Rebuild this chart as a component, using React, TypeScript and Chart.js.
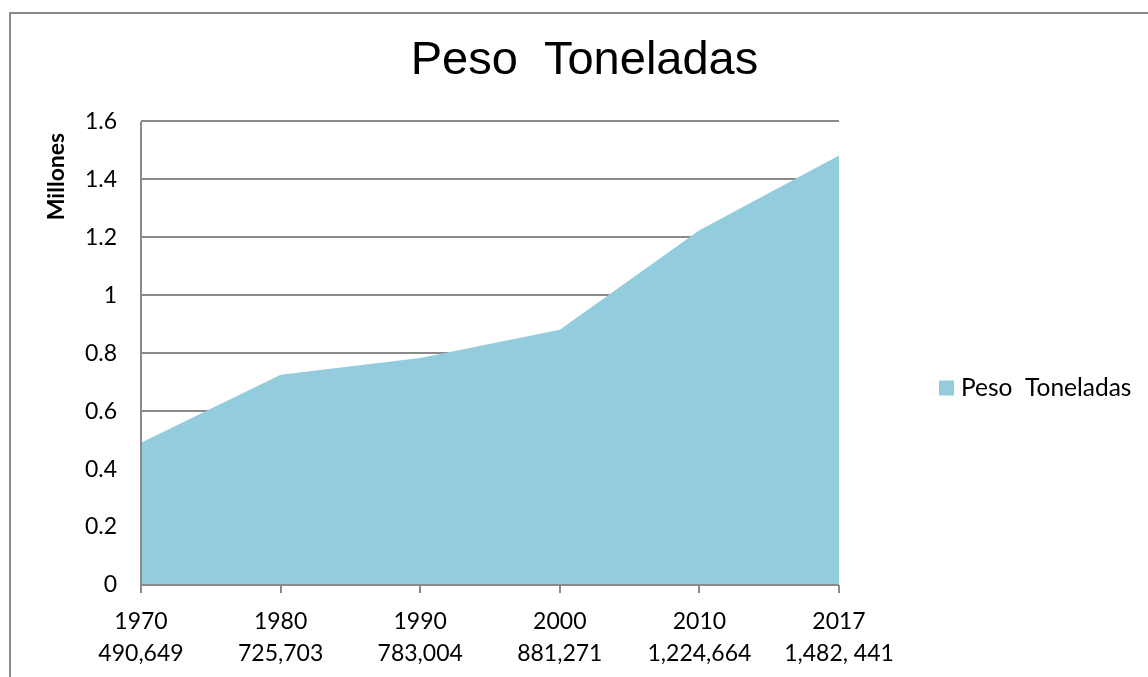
import React, { useEffect, useRef } from 'react';
import { Chart, registerables } from 'chart.js';

Chart.register(...registerables);

// Series: tonnage per census year
const years = ['1970', '1980', '1990', '2000', '2010', '2017'];
const tonnageLabels = ['490,649', '725,703', '783,004', '881,271', '1,224,664', '1,482, 441'];
const tonnes = [490649, 725703, 783004, 881271, 1224664, 1482441];

// Value axis, in millions of tonnes
const yTickValues = [0, 0.2, 0.4, 0.6, 0.8, 1, 1.2, 1.4, 1.6];

const chartTitle = 'Peso  Toneladas';
const seriesName = 'Peso  Toneladas';
const yAxisTitle = 'Millones';

const FILL = '#93cddd';
const GRID = '#8a8a8a';
const LABEL_FAMILY = 'Lato, "Noto Sans", sans-serif';
const LABEL_SIZE = 23;
const LEGEND_SIZE = 24.5;

// Axis lines on top of the area, plus the side legend and the rotated unit title.
const overlayPlugin = {
  id: 'overlay',
  afterDatasetsDraw(chart: any) {
    const { ctx, chartArea: a } = chart;
    ctx.save();
    ctx.strokeStyle = GRID;
    ctx.lineWidth = 2;
    ctx.beginPath();
    ctx.moveTo(a.left, a.top);
    ctx.lineTo(a.left, a.bottom);
    ctx.lineTo(a.right, a.bottom);
    ctx.stroke();
    ctx.restore();
  },
  afterDraw(chart: any) {
    const { ctx } = chart;
    const ds = chart.data.datasets[0];
    ctx.save();

    // unit title, rotated
    ctx.translate(56.5, 176.5);
    ctx.rotate(-Math.PI / 2);
    ctx.font = `bold ${LABEL_SIZE}px ${LABEL_FAMILY}`;
    ctx.fillStyle = '#000';
    ctx.textAlign = 'center';
    ctx.textBaseline = 'middle';
    ctx.fillText(yAxisTitle, 0, 0);
    ctx.setTransform(1, 0, 0, 1, 0, 0);

    // legend
    const lx = 939;
    const ly = 388;
    ctx.fillStyle = ds.backgroundColor;
    ctx.fillRect(lx, ly - 7.5, 15, 15);
    ctx.fillStyle = '#000';
    ctx.font = `${LEGEND_SIZE}px ${LABEL_FAMILY}`;
    ctx.textAlign = 'left';
    ctx.textBaseline = 'middle';
    ctx.fillText(ds.label, lx + 22, ly);
    ctx.restore();
  },
};

export default function App() {
  const canvasRef = useRef<HTMLCanvasElement>(null);

  useEffect(() => {
    const labelFont = { family: LABEL_FAMILY, size: LABEL_SIZE, lineHeight: 1.39 };
    const chart = new Chart(canvasRef.current as HTMLCanvasElement, {
      type: 'line',
      data: {
        labels: years.map((y, i) => [y, tonnageLabels[i]]),
        datasets: [
          {
            label: seriesName,
            data: tonnes.map((t) => t / 1e6),
            fill: 'origin',
            backgroundColor: FILL,
            borderColor: 'transparent',
            borderWidth: 0,
            pointRadius: 0,
            pointHoverRadius: 0,
            tension: 0,
            xAxisID: 'x',
            yAxisID: 'y',
          },
        ],
      },
      options: {
        animation: false,
        responsive: false,
        events: [],
        layout: { padding: { left: 21, right: 0, top: 0, bottom: 0 } },
        plugins: {
          legend: { display: false },
          tooltip: { enabled: false },
          title: {
            display: true,
            text: chartTitle,
            color: '#000',
            font: { family: '"Liberation Sans", Arial, sans-serif', size: 47, weight: 'normal', lineHeight: 1.2 },
            padding: { top: 33, bottom: 32 },
          },
        },
        scales: {
          x: {
            type: 'category',
            offset: false,
            grid: {
              display: true,
              drawOnChartArea: false,
              drawTicks: true,
              tickLength: 8,
              color: GRID,
              lineWidth: 2,
            },
            border: { display: false },
            ticks: {
              color: '#000',
              font: labelFont,
              padding: 13,
              maxRotation: 0,
              autoSkip: false,
            },
            afterFit: (s: any) => {
              s.height = 92;
            },
          },
          y: {
            type: 'linear',
            position: 'left',
            min: 0,
            max: 1.6,
            afterBuildTicks: (s: any) => {
              s.ticks = yTickValues.map((v) => ({ value: v }));
            },
            grid: { color: GRID, lineWidth: 2, drawTicks: false },
            border: { display: false },
            ticks: {
              color: '#000',
              font: labelFont,
              padding: 24,
              callback: (v: any) => String(v),
            },
            afterFit: (s: any) => {
              s.width = 120;
            },
          },
          legendSpace: {
            type: 'linear',
            position: 'right',
            grid: { display: false },
            border: { display: false },
            ticks: { display: false },
            afterFit: (s: any) => {
              s.width = 309;
            },
          },
        },
      },
      plugins: [overlayPlugin],
    } as any);
    return () => chart.destroy();
  }, []);

  return (
    <div>
      <div
        style={{
          position: 'fixed',
          left: 9,
          top: 12,
          width: 3000,
          height: 3000,
          border: '2px solid #898989',
          boxSizing: 'border-box',
        }}
      />
      <canvas
        ref={canvasRef}
        width={1148}
        height={677}
        style={{ position: 'fixed', left: 0, top: 0, width: 1148, height: 677 }}
      />
    </div>
  );
}
